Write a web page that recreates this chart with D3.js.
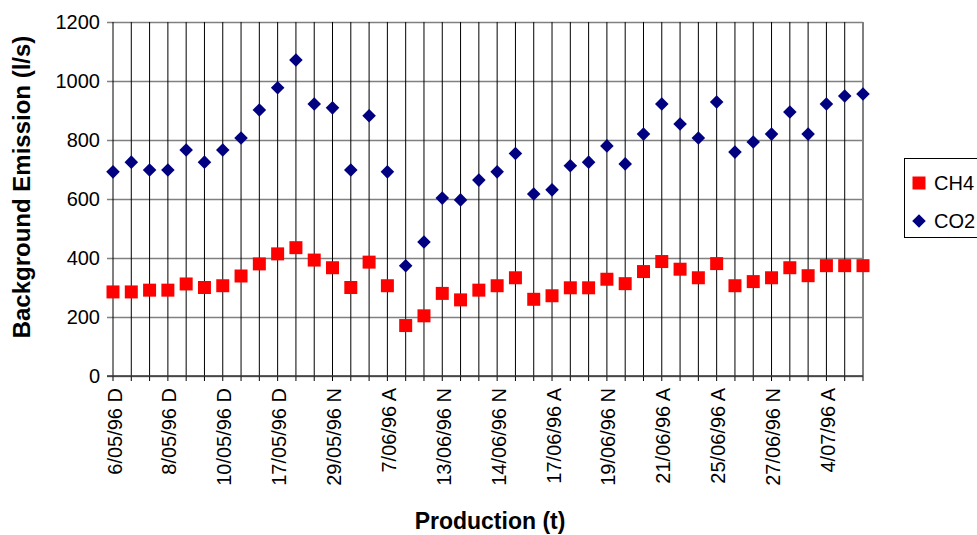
<!DOCTYPE html>
<html>
<head>
<meta charset="utf-8">
<script src="https://cdn.jsdelivr.net/npm/d3@7"></script>
<style>
  body { margin: 0; background: #fff; }
  text { font-family: "Liberation Sans", Arial, sans-serif; }
</style>
</head>
<body>
<div id="chart"></div>
<script>

// background emission per production shift
var ch4Values = [285, 285, 291, 291, 312, 300, 306, 339, 380, 414,
                 435, 393, 367, 300, 386, 306, 171, 204, 280, 258,
                 291, 306, 333, 260, 272, 299, 299, 328, 313, 354,
                 388, 362, 333, 381, 306, 320, 333, 367, 340, 374,
                 374, 374];
var co2Values = [692, 725, 698, 698, 766, 725, 766, 807, 902, 977,
                 1071, 922, 909, 698, 882, 692, 374, 454, 603, 597,
                 664, 692, 754, 617, 631, 713, 725, 780, 719, 820,
                 922, 854, 807, 929, 759, 793, 820, 895, 820, 922,
                 949, 956];

// only every third shift gets a label on the axis
var tickLabels = ["6/05/96 D", "8/05/96 D", "10/05/96 D", "17/05/96 D",
                  "29/05/96 N", "7/06/96 A", "13/06/96 N", "14/06/96 N",
                  "17/06/96 A", "19/06/96 N", "21/06/96 A", "25/06/96 A",
                  "27/06/96 N", "4/07/96 A"];
var yTicks = [0, 200, 400, 600, 800, 1000, 1200];
var seriesNames = ["CH4", "CO2"];

// set the dimensions and margins of the graph
var margin = {top: 22, right: 114, bottom: 159, left: 113},
    width = 977 - margin.left - margin.right,
    height = 535 - margin.top - margin.bottom;

var svg = d3.select("#chart").append("svg")
    .attr("width", 977)
    .attr("height", 535);

var g = svg.append("g")
    .attr("transform", "translate(" + margin.left + "," + margin.top + ")");

// scales
var x = d3.scalePoint()
    .domain(ch4Values.map(function(d, i) { return i; }))
    .range([0, width]);
var y = d3.scaleLinear()
    .domain([0, 1200])
    .range([height, 0]);

// horizontal gridlines, drawn from the tick mark to the right border
g.append("g")
    .attr("class", "yGrid")
    .attr("transform", "translate(-6,0)")
    .call(d3.axisLeft(y).tickValues(yTicks).tickSize(-(width + 6)).tickFormat(""))
    .call(function(s) { s.select(".domain").remove(); })
    .selectAll("line")
      .attr("stroke", "#808080")
      .attr("stroke-width", 1.5);

// vertical line at every category, running down past the axis as a tick
g.selectAll(".vline")
    .data(x.domain())
  .enter().append("line")
    .attr("class", "vline")
    .attr("x1", function(d) { return x(d); })
    .attr("x2", function(d) { return x(d); })
    .attr("y1", y(1200))
    .attr("y2", height + 5)
    .attr("stroke", "#000")
    .attr("stroke-width", 1);

// right border
g.append("line")
    .attr("x1", width).attr("x2", width)
    .attr("y1", y(1200)).attr("y2", height)
    .attr("stroke", "#808080")
    .attr("stroke-width", 2);

// bottom axis line
g.append("line")
    .attr("x1", -6).attr("x2", width)
    .attr("y1", height).attr("y2", height)
    .attr("stroke", "#333")
    .attr("stroke-width", 1.5);

// y axis labels
g.append("g")
    .attr("class", "yAxis")
    .call(d3.axisLeft(y).tickValues(yTicks).tickSize(0).tickPadding(13).tickFormat(d3.format("d")))
    .call(function(s) { s.select(".domain").remove(); })
    .selectAll("text")
      .attr("font-size", "20px")
      .attr("fill", "#000")
      .style("font-family", "'Liberation Sans', Arial, sans-serif");

// x axis labels, rotated
g.append("g")
    .attr("class", "xAxis")
    .attr("transform", "translate(0," + height + ")")
    .call(d3.axisBottom(x)
        .tickValues(x.domain().filter(function(d) { return d % 3 == 0; }))
        .tickFormat(function(d) { return tickLabels[d / 3]; })
        .tickSize(0))
    .call(function(s) { s.select(".domain").remove(); })
    .selectAll("text")
      .attr("font-size", "20px")
      .attr("fill", "#000")
      .style("font-family", "'Liberation Sans', Arial, sans-serif")
      .attr("text-anchor", "end")
      .attr("transform", "rotate(-90)")
      .attr("x", -12)
      .attr("y", 1)
      .attr("dy", "0.35em");

// axis titles
svg.append("text")
    .attr("x", 490)
    .attr("y", 529)
    .attr("text-anchor", "middle")
    .attr("font-size", "23px")
    .attr("font-weight", "bold")
    .text("Production (t)");

svg.append("text")
    .attr("transform", "translate(30,187) rotate(-90)")
    .attr("text-anchor", "middle")
    .attr("font-size", "24px")
    .attr("font-weight", "bold")
    .text("Background Emission (l/s)");

// markers
var square = d3.symbol().type(d3.symbolSquare).size(169);
var diamond = d3.symbol().type(d3.symbolSquare).size(92);

g.selectAll(".co2")
    .data(co2Values)
  .enter().append("path")
    .attr("class", "co2")
    .attr("d", diamond)
    .attr("transform", function(d, i) { return "translate(" + x(i) + "," + y(d) + ") rotate(45)"; })
    .attr("fill", "#000080");

g.selectAll(".ch4")
    .data(ch4Values)
  .enter().append("path")
    .attr("class", "ch4")
    .attr("d", square)
    .attr("transform", function(d, i) { return "translate(" + x(i) + "," + y(d) + ")"; })
    .attr("fill", "#ff0000");

// legend
var legend = svg.append("g")
    .attr("transform", "translate(904,158)");

legend.append("rect")
    .attr("x", 0.5).attr("y", 0.5)
    .attr("width", 90).attr("height", 79)
    .attr("fill", "#fff")
    .attr("stroke", "#000")
    .attr("stroke-width", 1);

var items = legend.selectAll(".item")
    .data(seriesNames)
  .enter().append("g")
    .attr("class", "item")
    .attr("transform", function(d, i) { return "translate(15," + (25 + i * 38) + ")"; });

items.append("path")
    .attr("d", function(d) { return d == "CH4" ? square() : diamond(); })
    .attr("transform", function(d) { return d == "CH4" ? "" : "rotate(45)"; })
    .attr("fill", function(d) { return d == "CH4" ? "#ff0000" : "#000080"; });

items.append("text")
    .attr("x", 15)
    .attr("dy", "0.35em")
    .attr("font-size", "20px")
    .text(function(d) { return d; });

</script>
</body>
</html>
